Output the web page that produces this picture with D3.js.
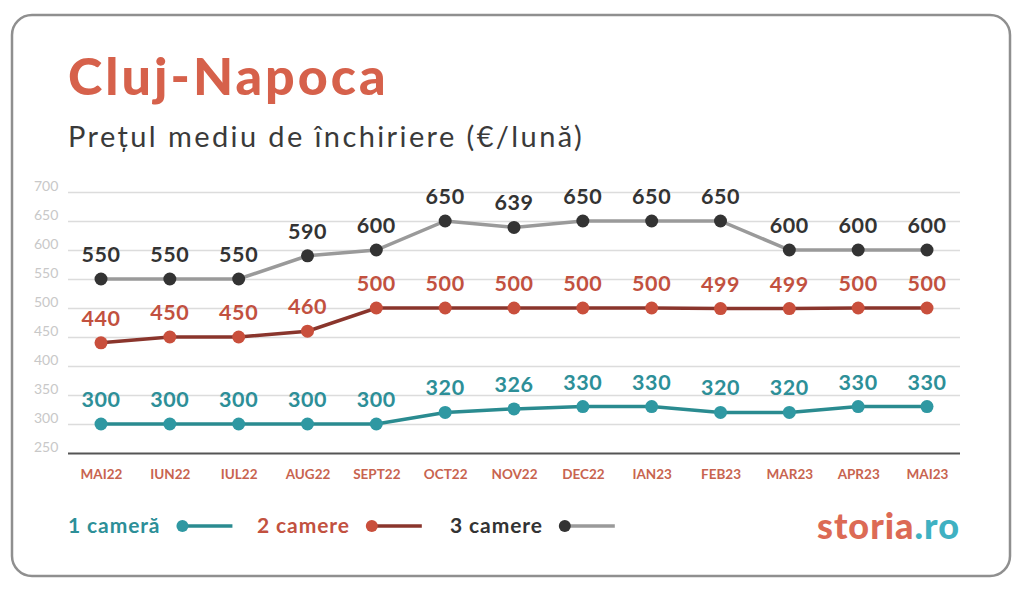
<!DOCTYPE html>
<html><head><meta charset="utf-8">
<script src="https://cdn.jsdelivr.net/npm/d3@7/dist/d3.min.js"></script>
<style>body{margin:0;background:#fff;}svg{display:block;}</style>
</head><body>
<svg id="c" width="1024" height="592"></svg>
<script>
const months = ["MAI22","IUN22","IUL22","AUG22","SEPT22","OCT22","NOV22","DEC22","IAN23","FEB23","MAR23","APR23","MAI23"];
const cam1 = [300,300,300,300,300,320,326,330,330,320,320,330,330];
const cam2 = [440,450,450,460,500,500,500,500,500,499,499,500,500];
const cam3 = [550,550,550,590,600,650,639,650,650,650,600,600,600];
const yTicks = [250,300,350,400,450,500,550,600,650,700];
const seriesNames = ["1 cameră","2 camere","3 camere"];

const series = [
  {name: seriesNames[0], values: cam1, line:"#2a8b90", dot:"#2f98a2", text:"#2d8f98"},
  {name: seriesNames[1], values: cam2, line:"#8a352c", dot:"#c94f3c", text:"#c2513f"},
  {name: seriesNames[2], values: cam3, line:"#9a9a9a", dot:"#333333", text:"#333333"}
];

const svg = d3.select("#c");
const FONT = "Lato, 'Open Sans', sans-serif";

// frame
svg.append("rect").attr("x",12).attr("y",15).attr("width",998).attr("height",561)
  .attr("rx",20).attr("fill","#fff").attr("stroke","#8f8f8f").attr("stroke-width",2.5);

// titles
svg.append("text").attr("x",68).attr("y",95).text("Cluj-Napoca")
  .attr("font-family",FONT).attr("font-weight",900).attr("font-size",52)
  .attr("letter-spacing",3).attr("fill","#d6614b");
svg.append("text").attr("x",68).attr("y",147).text("Prețul mediu de închiriere (€/lună)")
  .attr("font-family",FONT).attr("font-weight",400).attr("font-size",29)
  .attr("letter-spacing",2.4).attr("fill","#3a3a3a");

const x = d3.scalePoint().domain(months).range([101,927]);
const y = d3.scaleLinear().domain([250,700]).range([453,192]);

// grid
const yAxis = d3.axisLeft(y).tickValues(yTicks).tickSize(0).tickPadding(0);
const gy = svg.append("g").attr("transform","translate(68,0)").call(yAxis);
gy.select(".domain").remove();
gy.selectAll(".tick text").attr("x",-34).attr("dy","-0.1em").attr("text-anchor","start")
  .attr("font-family",FONT).attr("font-size",14).attr("fill","#c8c8c8");
gy.selectAll(".tick").append("line").attr("x1",0).attr("x2",892)
  .attr("stroke",d=>d===250?"#555":"#dcdcdc").attr("stroke-width",d=>d===250?2:1.5);

// x axis labels
const xAxis = d3.axisBottom(x).tickSize(0).tickPadding(0);
const gx = svg.append("g").attr("transform","translate(0,469)").call(xAxis);
gx.select(".domain").remove();
gx.selectAll(".tick text").attr("font-family",FONT).attr("font-weight",700)
  .attr("font-size",13.5).attr("fill","#c8644f");

// lines
const line = d3.line().x((d,i)=>x(months[i])).y(d=>y(d));
series.forEach(s=>{
  const g = svg.append("g");
  g.append("path").datum(s.values).attr("d",line).attr("fill","none")
    .attr("stroke",s.line).attr("stroke-width",3.5);
  g.selectAll("circle").data(s.values).join("circle")
    .attr("cx",(d,i)=>x(months[i])).attr("cy",d=>y(d)).attr("r",6.5).attr("fill",s.dot);
  g.selectAll("text").data(s.values).join("text")
    .attr("x",(d,i)=>x(months[i])).attr("y",d=>y(d)-17)
    .attr("text-anchor","middle").text(d=>d)
    .attr("font-family",FONT).attr("font-weight",700).attr("font-size",21.5)
    .attr("letter-spacing",0.6).attr("fill",s.text);
});

// legend
const legPos = [68, 257, 450];
series.forEach((s,i)=>{
  const g = svg.append("g").attr("transform",`translate(${legPos[i]},533)`);
  const t = g.append("text").attr("x",0).attr("y",0).text(s.name)
    .attr("font-family",FONT).attr("font-weight",700).attr("font-size",21)
    .attr("letter-spacing",0.9).attr("fill",s.text);
  const w = t.node().getComputedTextLength();
  const cx = w + 22;
  g.append("line").attr("x1",cx).attr("x2",cx+50).attr("y1",-7).attr("y2",-7)
    .attr("stroke",s.line).attr("stroke-width",3.5);
  g.append("circle").attr("cx",cx).attr("cy",-7).attr("r",6).attr("fill",s.dot);
});

// logo
const logo = svg.append("text").attr("x",960).attr("y",539).attr("text-anchor","end")
  .attr("font-family",FONT).attr("font-weight",900).attr("font-size",36)
  .attr("letter-spacing",1);
logo.append("tspan").text("storia").attr("fill","#dc6a55");
logo.append("tspan").text(".ro").attr("fill","#3fb1c2");
</script>
</body></html>
